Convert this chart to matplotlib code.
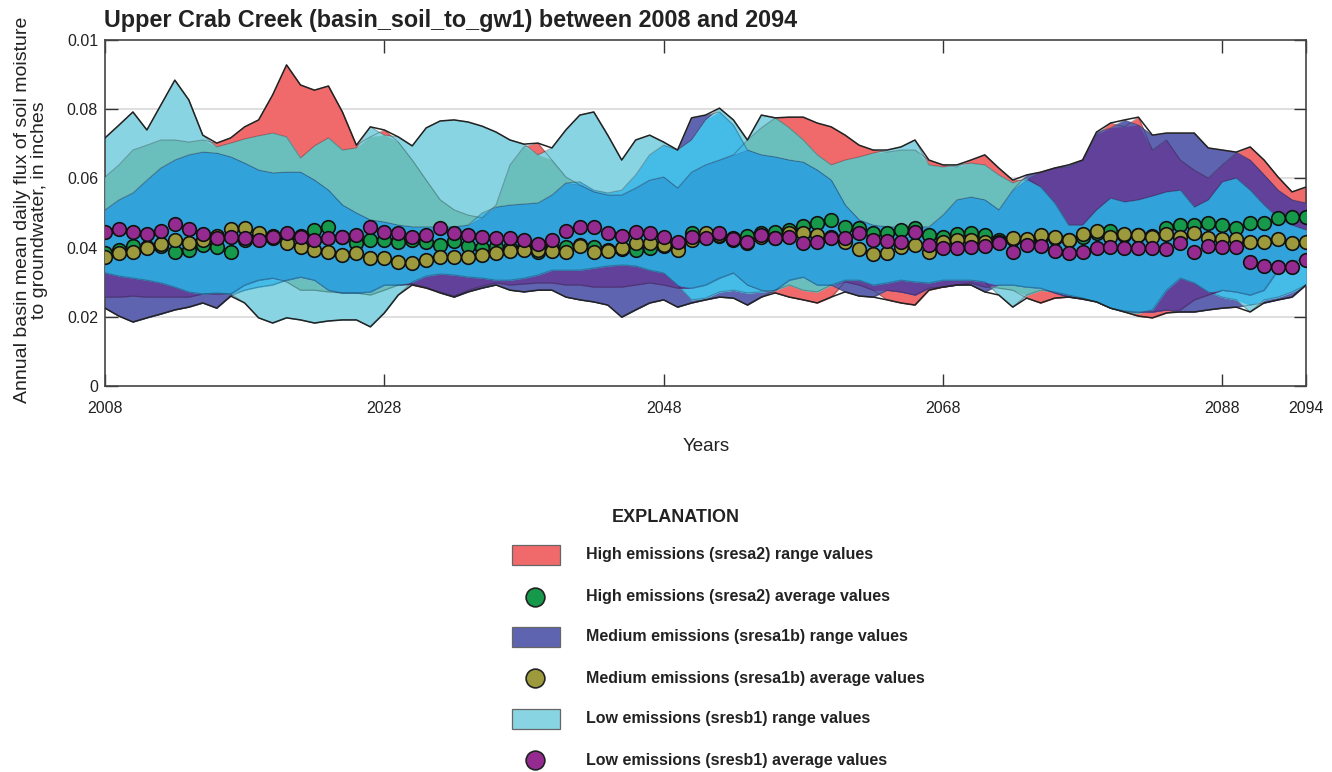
import numpy as np
import matplotlib.pyplot as plt
from matplotlib.patches import Rectangle
from matplotlib.lines import Line2D

years = np.arange(2008, 2095)

# ── Values, in thousandths of an inch ──────────────────────────────────────
# range bands (upper / lower edge) per scenario
high_hi = np.array([
    60.4, 63.9, 68.2, 69.6, 71.1, 71.1, 70.5, 71.1, 70.2, 71.7,
    74.9, 76.9, 84.1, 92.8, 87.0, 85.5, 86.7, 79.2, 69.6, 72.0,
    74.0, 70.5, 65.3, 59.5, 53.8, 50.9, 49.4, 48.6, 52.3, 63.9,
    69.1, 70.2, 65.3, 60.4, 58.1, 56.1, 55.2, 55.2, 57.2, 59.5,
    60.4, 57.2, 61.8, 63.9, 65.3, 66.8, 71.1, 74.6, 77.5, 77.7,
    77.7, 76.0, 74.9, 72.5, 69.6, 68.2, 67.6, 68.2, 68.2, 65.3,
    63.9, 63.3, 65.3, 66.8, 63.0, 59.5, 59.5, 61.8, 63.0, 63.3,
    65.3, 72.5, 76.0, 74.9, 77.7, 68.2, 71.1, 65.3, 62.4, 60.1,
    63.9, 67.3, 69.1, 65.3, 60.4, 56.1, 57.5]) / 1000
high_lo = np.array([
    25.7, 25.7, 26.0, 25.7, 25.7, 25.7, 25.7, 26.6, 26.6, 26.6,
    29.2, 30.6, 31.2, 30.1, 27.7, 27.7, 27.2, 26.9, 26.9, 26.3,
    27.7, 29.2, 29.2, 28.3, 27.2, 26.0, 27.7, 28.9, 29.8, 29.2,
    29.5, 29.8, 29.8, 29.2, 29.2, 28.6, 28.6, 28.6, 29.2, 29.8,
    29.2, 28.3, 28.3, 29.2, 31.2, 32.7, 29.2, 27.7, 26.9, 25.7,
    24.9, 24.0, 25.7, 30.1, 29.2, 27.7, 24.9, 24.0, 23.4, 27.7,
    28.6, 29.2, 29.8, 28.6, 28.3, 27.7, 25.4, 24.0, 25.4, 25.7,
    25.4, 24.3, 22.5, 21.4, 20.2, 19.7, 21.1, 22.0, 24.9, 26.3,
    27.7, 27.2, 26.3, 27.7, 33.5, 35.8, 37.0]) / 1000

mid_hi = np.array([
    50.9, 53.8, 55.8, 59.5, 63.0, 65.3, 66.8, 67.6, 67.3, 66.2,
    64.4, 62.4, 61.6, 61.8, 61.8, 59.5, 56.6, 52.3, 50.0, 48.0,
    47.4, 46.5, 46.0, 46.0, 46.0, 46.0, 46.5, 50.0, 51.7, 52.3,
    52.6, 52.9, 55.2, 58.7, 59.0, 56.6, 55.8, 56.6, 61.0, 66.8,
    69.6, 68.2, 77.5, 78.3, 79.2, 75.4, 68.2, 66.8, 66.2, 65.3,
    64.7, 62.4, 59.5, 52.3, 48.0, 46.5, 46.0, 46.0, 46.0, 46.0,
    49.4, 53.8, 54.6, 53.8, 50.9, 56.6, 61.0, 61.8, 63.0, 63.9,
    65.3, 73.4, 74.6, 76.9, 75.4, 72.5, 73.1, 73.1, 73.1, 68.8,
    68.2, 67.6, 65.3, 61.0, 56.6, 53.8, 52.9]) / 1000
mid_lo = np.array([
    22.5, 20.2, 18.5, 19.7, 20.8, 22.0, 22.8, 24.0, 22.5, 26.0,
    27.7, 28.6, 29.2, 30.6, 31.5, 30.6, 27.7, 26.9, 26.9, 27.2,
    29.2, 29.2, 29.5, 28.6, 26.9, 25.7, 27.2, 28.3, 29.2, 27.7,
    27.2, 27.7, 27.7, 25.7, 24.9, 24.3, 23.4, 19.9, 22.0, 24.0,
    24.9, 22.8, 24.0, 24.9, 25.7, 25.4, 23.4, 25.7, 27.7, 30.6,
    31.5, 29.2, 29.2, 27.2, 26.0, 25.7, 27.7, 27.2, 26.3, 28.3,
    28.6, 29.2, 29.2, 27.2, 29.2, 29.2, 28.6, 28.3, 26.9, 25.7,
    25.1, 24.3, 22.5, 21.7, 21.4, 21.4, 22.0, 21.4, 21.4, 22.0,
    22.5, 22.8, 23.4, 24.0, 24.9, 25.7, 29.2]) / 1000

low_hi = np.array([
    71.7, 75.4, 79.2, 74.0, 81.2, 88.4, 82.7, 72.5, 69.1, 70.2,
    71.4, 72.3, 73.1, 72.0, 65.9, 69.4, 71.7, 68.2, 68.8, 74.9,
    72.5, 72.0, 69.4, 74.6, 76.6, 76.9, 76.3, 75.1, 73.4, 71.1,
    69.9, 66.8, 68.8, 74.0, 78.3, 79.2, 72.5, 65.3, 71.1, 72.5,
    70.5, 68.2, 71.1, 76.9, 80.3, 76.9, 71.1, 78.3, 77.5, 74.6,
    71.1, 66.8, 63.9, 65.3, 66.2, 67.3, 68.2, 69.1, 71.1, 63.9,
    63.3, 63.9, 64.4, 63.9, 61.0, 58.7, 60.1, 57.5, 52.9, 46.5,
    46.5, 50.9, 54.3, 53.2, 53.8, 54.9, 56.1, 56.6, 51.7, 53.8,
    59.0, 60.1, 56.6, 52.3, 48.6, 46.5, 45.1]) / 1000
low_lo = np.array([
    32.7, 31.8, 31.2, 30.6, 29.8, 28.6, 27.2, 26.6, 26.9, 26.6,
    24.0, 19.7, 18.2, 19.7, 19.1, 18.2, 18.8, 19.1, 19.1, 17.1,
    21.1, 26.3, 30.1, 31.8, 32.4, 32.1, 31.5, 31.2, 30.6, 30.6,
    31.2, 32.1, 33.5, 33.5, 33.5, 34.1, 34.7, 35.0, 34.7, 33.5,
    32.7, 29.2, 24.9, 25.4, 27.2, 27.7, 26.9, 27.2, 27.7, 29.2,
    27.7, 27.2, 29.2, 30.6, 30.6, 29.2, 29.8, 30.6, 30.1, 29.8,
    30.6, 30.6, 30.6, 30.1, 26.3, 22.8, 26.3, 27.7, 27.2, 26.3,
    25.4, 24.3, 22.5, 21.4, 21.1, 22.0, 27.7, 31.2, 29.8, 27.2,
    25.7, 24.9, 21.4, 24.9, 25.7, 27.2, 29.2]) / 1000

# average values per scenario
avg_high = np.array([
    38.4, 39.3, 40.5, 40.2, 40.5, 38.7, 39.3, 40.7, 40.2, 38.7,
    42.2, 42.8, 43.4, 43.4, 43.4, 45.1, 46.0, 43.1, 41.3, 42.2,
    42.2, 41.6, 42.2, 41.6, 40.7, 41.9, 40.5, 39.9, 40.2, 39.9,
    40.2, 38.7, 39.9, 40.2, 40.7, 40.2, 39.3, 39.6, 39.3, 39.9,
    40.5, 40.7, 44.2, 43.4, 43.4, 42.2, 43.4, 44.2, 44.5, 45.1,
    46.2, 47.1, 48.0, 46.0, 45.7, 44.2, 44.2, 45.1, 45.7, 43.6,
    43.1, 43.9, 44.2, 43.6, 42.2, 42.5, 42.2, 43.1, 42.8, 42.2,
    43.1, 44.2, 44.8, 43.6, 43.6, 43.4, 45.7, 46.5, 46.5, 47.1,
    46.5, 45.7, 47.1, 47.1, 48.6, 48.8, 48.8]) / 1000
avg_mid = np.array([
    37.3, 38.4, 38.7, 39.9, 41.0, 42.2, 41.3, 42.2, 43.4, 45.4,
    45.7, 44.2, 42.8, 41.3, 40.2, 39.3, 38.7, 37.9, 38.4, 37.0,
    37.0, 35.8, 35.5, 36.4, 37.3, 37.3, 37.3, 37.9, 38.4, 39.0,
    39.3, 39.3, 39.0, 38.7, 40.5, 38.7, 39.0, 39.9, 41.3, 41.3,
    40.7, 39.3, 42.2, 44.2, 43.6, 42.8, 41.3, 43.1, 42.8, 44.2,
    44.2, 43.6, 43.1, 41.6, 39.6, 38.1, 38.4, 40.2, 40.7, 38.7,
    41.6, 42.2, 42.2, 41.6, 41.6, 42.8, 42.5, 43.6, 43.1, 42.2,
    43.9, 44.8, 43.1, 43.9, 43.6, 43.1, 43.9, 43.1, 44.2, 42.8,
    42.5, 42.5, 41.6, 41.6, 42.5, 41.3, 41.6]) / 1000
avg_low = np.array([
    44.5, 45.4, 44.5, 43.9, 44.8, 46.8, 45.4, 43.9, 42.8, 43.1,
    42.8, 42.2, 43.1, 44.2, 43.1, 42.2, 42.8, 43.1, 43.6, 46.0,
    44.5, 44.2, 43.1, 43.6, 45.7, 44.2, 43.6, 43.1, 42.8, 42.8,
    42.2, 41.0, 42.2, 44.8, 46.0, 46.0, 44.2, 43.4, 44.5, 44.2,
    43.1, 41.6, 43.1, 42.8, 44.2, 42.5, 41.6, 43.6, 42.8, 43.1,
    41.3, 41.6, 42.8, 42.8, 44.2, 42.2, 41.9, 41.6, 44.5, 40.7,
    39.9, 39.9, 40.2, 40.5, 41.3, 38.7, 40.7, 40.5, 39.0, 38.4,
    38.7, 39.9, 40.2, 39.9, 39.9, 39.9, 39.6, 41.3, 38.7, 40.5,
    40.2, 40.2, 35.8, 34.7, 34.4, 34.4, 36.4]) / 1000

x_ticks = [2008, 2028, 2048, 2068, 2088, 2094]
y_ticks = [0, 0.02, 0.04, 0.06, 0.08, 0.1]
y_labels = ['0', '0.02', '0.04', '0.06', '0.08', '0.01']

legend_labels = [
    'High emissions (sresa2) range values',
    'High emissions (sresa2) average values',
    'Medium emissions (sresa1b) range values',
    'Medium emissions (sresa1b) average values',
    'Low emissions (sresb1) range values',
    'Low emissions (sresb1) average values',
]

# colours: single bands and their overlaps
C_HIGH, C_MID, C_LOW = '#F06A6B', '#5F64B0', '#88D4E2'
C_HIGH_LOW, C_MID_LOW, C_HIGH_MID, C_ALL = '#6ABFBD', '#45BBE8', '#61419A', '#31A3DA'
D_HIGH, D_MID, D_LOW = '#16994A', '#9C9A3C', '#952B91'

plt.rcParams['font.family'] = ['Liberation Sans', 'DejaVu Sans']

W, H = 1332, 772
fig = plt.figure(figsize=(W / 100, H / 100), dpi=100)
ax = fig.add_axes([105 / W, 1 - 386 / H, 1201 / W, 346 / H])

bands = {'high': (high_lo, high_hi), 'mid': (mid_lo, mid_hi), 'low': (low_lo, low_hi)}

def fill_overlap(keys, color, z):
    lo = np.max([bands[k][0] for k in keys], axis=0)
    hi = np.min([bands[k][1] for k in keys], axis=0)
    ax.fill_between(years, lo, hi, where=hi > lo, interpolate=True,
                    color=color, lw=0.4, zorder=z)

fill_overlap(['high'], C_HIGH, 2)
fill_overlap(['mid'], C_MID, 2)
fill_overlap(['low'], C_LOW, 2)
fill_overlap(['high', 'low'], C_HIGH_LOW, 3)
fill_overlap(['mid', 'low'], C_MID_LOW, 3)
fill_overlap(['high', 'mid'], C_HIGH_MID, 3)
fill_overlap(['high', 'mid', 'low'], C_ALL, 4)

# band edges, then the outer envelope in dark
for lo, hi in bands.values():
    ax.plot(years, lo, color='#1a1a1a', alpha=0.3, lw=0.8, zorder=5)
    ax.plot(years, hi, color='#1a1a1a', alpha=0.3, lw=0.8, zorder=5)
top = np.max([b[1] for b in bands.values()], axis=0)
bot = np.min([b[0] for b in bands.values()], axis=0)
ax.plot(years, top, color='#222', lw=1.1, zorder=6)
ax.plot(years, bot, color='#222', lw=1.1, zorder=6)

# averages
for vals, col in [(avg_high, D_HIGH), (avg_mid, D_MID), (avg_low, D_LOW)]:
    ax.plot(years, vals, 'o', ls='none', ms=9.8, mfc=col, mec='#111', mew=1.2, zorder=7)

for y in y_ticks[1:-1]:
    ax.axhline(y, color='#dcdcdc', lw=1.3, zorder=0)

ax.set_xlim(2008, 2094)
ax.set_ylim(0, 0.1)
ax.set_xticks(x_ticks)
ax.set_xticklabels([str(t) for t in x_ticks], fontsize=11.5)
ax.set_yticks(y_ticks)
ax.set_yticklabels(y_labels, fontsize=11.5)
ax.tick_params(direction='in', length=9, width=1, top=True, right=True, colors='#333',
               labelcolor='#222')
ax.tick_params(axis='x', pad=11)
ax.tick_params(axis='y', pad=5)
for s in ax.spines.values():
    s.set_edgecolor('#444')
    s.set_linewidth(1.2)

fig.text(104 / W, 1 - 21 / H, 'Upper Crab Creek (basin_soil_to_gw1) between 2008 and 2094',
         fontsize=16.8, fontweight='bold', ha='left', va='center', color='#222')
fig.text(706 / W, 1 - 447 / H, 'Years', fontsize=13.5, ha='center', va='center', color='#222')
fig.text(31 / W, 1 - 210 / H,
         'Annual basin mean daily flux of soil moisture\nto groundwater, in inches',
         fontsize=14, rotation=90, ha='center', va='center', multialignment='center',
         color='#222', linespacing=1.05)

# ── Explanation ────────────────────────────────────────────────────────────
fig.text(676 / W, 1 - 518 / H, 'EXPLANATION', fontsize=13, fontweight='bold',
         ha='center', va='center', color='#222')
rows = [555, 597, 637, 678, 719, 760]
handles = [('box', C_HIGH), ('dot', D_HIGH), ('box', C_MID),
           ('dot', D_MID), ('box', C_LOW), ('dot', D_LOW)]
for yy, (kind, col), lab in zip(rows, handles, legend_labels):
    if kind == 'box':
        fig.add_artist(Rectangle((512 / W, 1 - (yy + 10) / H), 48 / W, 20 / H,
                                 transform=fig.transFigure, fc=col, ec='#666', lw=0.9))
    else:
        fig.add_artist(Line2D([535 / W], [1 - yy / H], marker='o', ms=13.5, mfc=col,
                              mec='#222', mew=1.2, transform=fig.transFigure))
    fig.text(586 / W, 1 - yy / H, lab, fontsize=11.5, fontweight='bold',
             ha='left', va='center', color='#222')

fig.savefig('out.png', dpi=100)
